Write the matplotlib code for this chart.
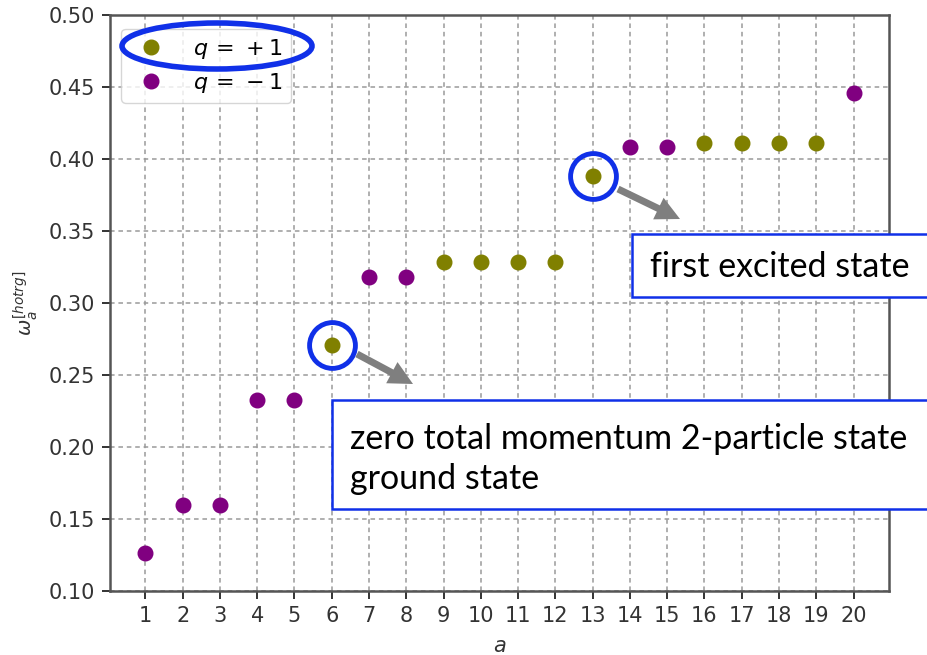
import matplotlib
matplotlib.use("Agg")
import matplotlib.pyplot as plt
from matplotlib.patches import Ellipse, FancyArrow, Rectangle

# Eigenvalue index and values for each charge sector
a_plus = [6, 9, 10, 11, 12, 13, 16, 17, 18, 19]
w_plus = [0.2708, 0.3285, 0.3285, 0.3285, 0.3285, 0.3880, 0.4110, 0.4110, 0.4110, 0.4110]
a_minus = [1, 2, 3, 4, 5, 7, 8, 14, 15, 20]
w_minus = [0.1264, 0.1597, 0.1597, 0.2326, 0.2326, 0.3180, 0.3180, 0.4080, 0.4080, 0.4458]

x_ticks = list(range(1, 21))
y_ticks = [0.10, 0.15, 0.20, 0.25, 0.30, 0.35, 0.40, 0.45, 0.50]

ground_label = "zero total momentum 2-particle state\nground state"
excited_label = "first excited state"

W, H = 928, 655
fig = plt.figure(figsize=(W / 100, H / 100), dpi=100)
ax = fig.add_axes([110 / W, 1 - 591 / H, (889 - 110) / W, (591 - 15) / H])

ax.plot(a_plus, w_plus, "o", color="#808000", ms=10.5, label=r"$q\,=\,+1$", zorder=3)
ax.plot(a_minus, w_minus, "o", color="#800080", ms=10.5, label=r"$q\,=\,-1$", zorder=3)

ax.set_xlim(0.05, 20.95)
ax.set_ylim(0.10, 0.50)
ax.set_xticks(x_ticks)
ax.set_yticks(y_ticks)
ax.set_yticklabels([f"{v:.2f}" for v in y_ticks])
ax.tick_params(labelsize=15, colors="#333333", length=6, width=1.4, pad=5)
ax.grid(True, ls=(0, (3, 2.5)), color="#9a9a9a", lw=1.1)
for s in ax.spines.values():
    s.set_color("#555555")
    s.set_linewidth(1.8)

ax.set_xlabel("$a$", fontsize=15, color="#333333")
ax.xaxis.set_label_coords(0.5, -0.078)
ax.set_ylabel(r"$\omega_a^{[hotrg]}$", fontsize=14, color="#333333")
ax.yaxis.set_label_coords(-0.09, 0.5)

leg = ax.legend(loc="upper left", fontsize=16, handletextpad=0.9,
                borderpad=0.35, labelspacing=0.45, framealpha=0.8,
                edgecolor="#cccccc", fancybox=True,
                bbox_to_anchor=(0.0, 0.995))

# Highlight circles on the two marked states
blue = "#1030e8"
ax.plot([a_plus[0]], [w_plus[0]], "o", ms=33, mfc="none", mec=blue, mew=3.5, zorder=4)
ax.plot([a_plus[5]], [w_plus[5]], "o", ms=33, mfc="none", mec=blue, mew=3.5, zorder=4)

# Overlay in pixel coordinates for callouts
ov = fig.add_axes([0, 0, 1, 1], facecolor="none")
ov.set_xlim(0, W)
ov.set_ylim(H, 0)
ov.axis("off")

ov.add_patch(Ellipse((217, 46), 190, 46, fill=False, ec=blue, lw=4))

for (x0, y0, x1, y1) in [(357, 354, 413, 384), (618, 189, 680, 219)]:
    ov.add_patch(FancyArrow(x0, y0, x1 - x0, y1 - y0, width=7, head_width=24,
                            head_length=24, length_includes_head=True,
                            color="#7f7f7f", lw=0))

ov.add_patch(Rectangle((632, 234), 300, 63, fc="white", ec=blue, lw=1.8, zorder=5))
ov.text(650, 267, excited_label, fontsize=24.5, family="Lato", va="center",
        ha="left", color="black", zorder=6)

ov.add_patch(Rectangle((332, 400), 600, 109, fc="white", ec=blue, lw=1.8, zorder=5))
ov.text(350, 459, ground_label, fontsize=24.5, family="Lato", va="center",
        ha="left", color="black", linespacing=1.3, zorder=6)

fig.savefig("out.png", dpi=100)
